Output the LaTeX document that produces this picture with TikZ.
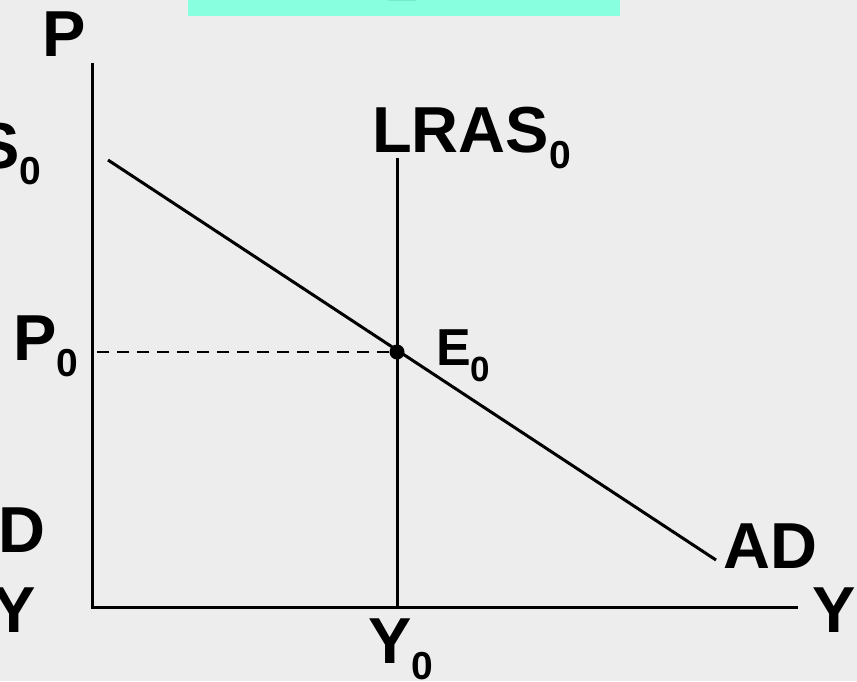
\documentclass[tikz,border=0pt]{standalone}
\usepackage{fontspec}
\setmainfont{Liberation Sans}
\usepackage{xcolor}
\definecolor{paper}{HTML}{EDEDED}
\definecolor{banner}{HTML}{88FFDF}
\definecolor{bannertext}{HTML}{00604A}
\newcommand{\subzero}[1]{\raisebox{-16pt}{\fontsize{#1}{#1}\selectfont 0}}

\begin{document}
\begin{tikzpicture}[x=1pt, y=-1pt,
      axis/.style={line width=3pt, line cap=rect},
      curve/.style={line width=3pt},
      lbl/.style={anchor=base west, inner sep=0pt, font=\bfseries\fontsize{65}{65}\selectfont},
      small/.style={anchor=base west, inner sep=0pt, font=\bfseries\fontsize{52}{52}\selectfont}
    ]
      \useasboundingbox[fill=paper] (0,0) rectangle (857,681);
      % banner at the top, cut by the frame
      \fill[banner] (188,0) rectangle (620,16);
      \fill[bannertext] (388,0) -- (416,0) arc[start angle=0, end angle=-180, x radius=14, y radius=4] -- cycle;
      % axes
      \coordinate (o) at (92,607);
      \coordinate (ytop) at (92,64);
      \coordinate (xend) at (796,607);
      \draw[axis] (ytop) -- (o) -- (xend);
      % curves
      \coordinate (lrastop) at (397,158);
      \coordinate (lrasbot) at (397,607);
      \coordinate (ad1) at (108,160);
      \coordinate (ad2) at (716,560);
      \coordinate (p0) at (92,352);
      \draw[curve] (lrastop) -- (lrasbot);
      \draw[curve] (ad1) -- (ad2);
      \node[circle, fill=black, inner sep=0pt, minimum size=15pt] (e) at (397,352) {};
      \draw[line width=2.2pt, dash pattern=on 12pt off 8pt] (e) -- (p0);
      % labels
      \node[lbl] (plab) at (42,56) {P};
      \node[lbl] (slab) at (-24,168) {S\subzero{39}};
      \node[lbl] (dlab) at (-2,552) {D};
      \node[lbl] (ylab) at (-8,632) {Y};
      \node[lbl] (lraslab) at (372,152) {LRAS\subzero{39}};
      \node[lbl] (p0lab) at (13,360) {P\subzero{39}};
      \node[small] (elab) at (436,365) {E\subzero{35}};
      \node[lbl] (adlab) at (723,568) {AD};
      \node[lbl] (yrlab) at (812,632) {Y};
      \node[lbl] (y0lab) at (368,663) {Y\subzero{39}};
    \end{tikzpicture}
\end{document}
